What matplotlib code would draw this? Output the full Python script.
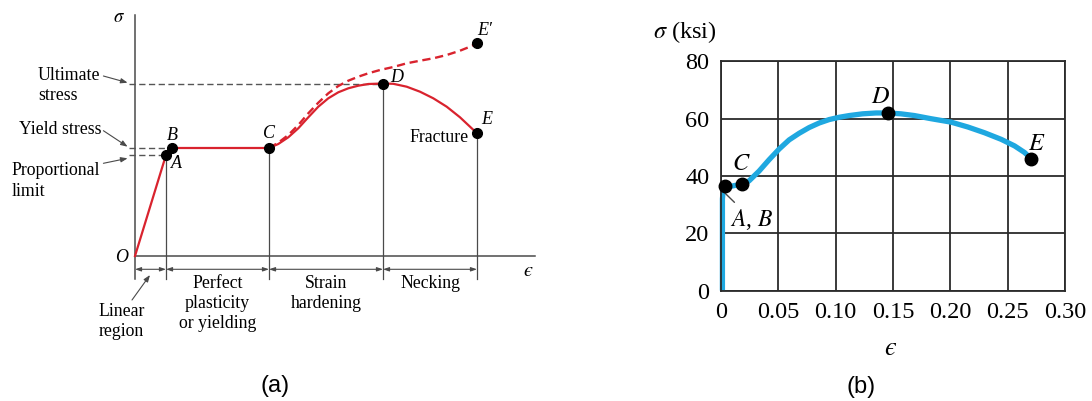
import matplotlib
matplotlib.use("Agg")
import matplotlib.pyplot as plt

plt.rcParams['mathtext.fontset'] = 'stix'
SERIF = 'Liberation Serif'
RED = '#d9232e'
BLUE = '#1fa8e0'
GRAY = '#4a4a4a'

# ---- (a) schematic stress-strain diagram (arbitrary units) ----
point_names = ['A', 'B', 'C', 'D', 'E', "E\u2032"]
point_eps = [0.31, 0.37, 1.34, 2.48, 3.42, 3.42]
point_sig = [1.01, 1.08, 1.08, 1.725, 1.227, 2.127]

# engineering curve O-A-B-C-D-E
curve_eps = [0, 0.31, 0.37, 1.34, 1.433, 1.533, 1.633, 1.733, 1.833, 1.933, 2.033,
             2.133, 2.233, 2.333, 2.48, 2.583, 2.717, 2.85, 2.983, 3.117, 3.25, 3.35, 3.42]
curve_sig = [0, 1.01, 1.08, 1.08, 1.12, 1.187, 1.277, 1.387, 1.493, 1.577, 1.637,
             1.677, 1.703, 1.72, 1.725, 1.722, 1.693, 1.643, 1.577, 1.493, 1.387, 1.293, 1.227]

# true-stress curve C-E'
true_eps = [1.34, 1.433, 1.533, 1.633, 1.733, 1.833, 1.933, 2.033, 2.133, 2.233, 2.333,
            2.45, 2.583, 2.717, 2.85, 2.983, 3.117, 3.25, 3.35, 3.42]
true_sig = [1.08, 1.133, 1.21, 1.31, 1.427, 1.533, 1.627, 1.70, 1.753, 1.793, 1.827,
            1.86, 1.89, 1.927, 1.953, 1.977, 2.01, 2.053, 2.093, 2.127]

region_labels = ['Perfect\nplasticity\nor yielding', 'Strain\nhardening', 'Necking']
stress_labels = ['Ultimate\nstress', 'Yield stress', 'Proportional\nlimit']

# ---- (b) measured curve for structural steel ----
steel_eps = [0.0015, 0.0015, 0.0022, 0.0038, 0.010, 0.0183, 0.0247, 0.0334, 0.0422,
             0.0509, 0.0596, 0.0683, 0.077, 0.0858, 0.0945, 0.1032, 0.112, 0.1236,
             0.1353, 0.1455, 0.157, 0.1687, 0.1832, 0.2007, 0.2153, 0.2298, 0.2443,
             0.256, 0.2647, 0.2705]
steel_sig = [0, 32, 35.2, 36.4, 36.5, 37.2, 38.3, 41.7, 45.7,
             49.4, 52.6, 54.9, 56.9, 58.5, 59.7, 60.5, 61.1, 61.7,
             62.0, 62.0, 61.7, 61.1, 60.0, 58.8, 57.1, 55.1, 52.8,
             50.5, 48.2, 46.0]
steel_pt_eps = [0.0038, 0.0183, 0.1455, 0.2705]
steel_pt_sig = [36.4, 37.2, 62.0, 46.0]
steel_x_ticks = [0, 0.05, 0.10, 0.15, 0.20, 0.25, 0.30]
steel_x_labels = ['0', '0.05', '0.10', '0.15', '0.20', '0.25', '0.30']
steel_y_ticks = [0, 20, 40, 60, 80]

fig = plt.figure(figsize=(10.92, 4.01), dpi=100)

# ================= panel (a) =================
ax = fig.add_axes([0, 0, 0.5, 1])
ax.set_xlim(-1.35, 4.11)
ax.set_ylim(-1.45, 2.56)
ax.axis('off')

ax.plot([0, 0], [-0.23, 2.41], color=GRAY, lw=1.1)
ax.plot([0, 4.0], [0, 0], color=GRAY, lw=1.1)

# drop lines from A, C, D, E
for i in [0, 2, 3, 4]:
    ax.plot([point_eps[i], point_eps[i]], [-0.23, point_sig[i]], color=GRAY, lw=0.9)

# dashed guides to stress levels
for i in [3, 1, 0]:
    ax.plot([-0.06, point_eps[i]], [point_sig[i], point_sig[i]], color='#555555',
            lw=1.0, ls=(0, (4.5, 2.5)))

ax.plot(true_eps, true_sig, color=RED, lw=1.7, ls=(0, (3.5, 2)))
ax.plot(curve_eps, curve_sig, color=RED, lw=1.6, solid_joinstyle='round')
ax.plot(point_eps, point_sig, 'o', color='black', ms=7, zorder=5)

label_off = {'A': (0.10, -0.09), 'B': (0.0, 0.13), 'C': (0.005, 0.14), 'D': (0.135, 0.06),
             'E': (0.095, 0.14), "E\u2032": (0.08, 0.13)}
for name, x, y in zip(point_names, point_eps, point_sig):
    dx, dy = label_off[name]
    ax.text(x + dx, y + dy, name, family=SERIF, style='italic', fontsize=13,
            ha='center', va='center')
ax.text(3.34, 1.19, 'Fracture', family=SERIF, fontsize=12.8, ha='right', va='center')

ax.text(-0.16, 2.40, r'$\sigma$', fontsize=13.5, ha='center', va='center')
ax.text(-0.13, -0.01, 'O', family=SERIF, style='italic', fontsize=13,
        ha='center', va='center')
ax.text(3.93, -0.14, '$\u03f5$', fontsize=14.5, ha='center', va='center')

# region dimension arrows and labels
bounds = [0, point_eps[0], point_eps[2], point_eps[3], point_eps[4]]
for x0, x1 in zip(bounds[:-1], bounds[1:]):
    ax.annotate('', xy=(x1, -0.133), xytext=(x0, -0.133),
                arrowprops=dict(arrowstyle='<|-|>,head_length=0.35,head_width=0.12',
                                color=GRAY, lw=0.8, shrinkA=0, shrinkB=0))
for x0, x1, lab in zip(bounds[1:-1], bounds[2:], region_labels):
    ax.text((x0 + x1) / 2, -0.185, lab, family=SERIF, fontsize=12.8, ha='center',
            va='top', linespacing=1.25)

ax.text(-0.136, -0.655, 'Linear\nregion', family=SERIF, fontsize=12.8, ha='center',
        va='center', linespacing=1.25)
ax.annotate('', xy=(0.15, -0.19), xytext=(-0.03, -0.44),
            arrowprops=dict(arrowstyle='-|>,head_length=0.4,head_width=0.15',
                            color=GRAY, lw=0.8, shrinkA=0, shrinkB=0))

# stress level call-outs
stress_text_pos = [(-0.97, 1.707), (-1.16, 1.267), (-1.236, 0.75)]
stress_arrow_from = [(-0.316, 1.80), (-0.316, 1.253), (-0.316, 0.927)]
stress_arrow_to = [(-0.074, 1.733), (-0.074, 1.093), (-0.074, 0.977)]
for lab, tp, af, at in zip(stress_labels, stress_text_pos, stress_arrow_from, stress_arrow_to):
    ax.text(tp[0], tp[1], lab, family=SERIF, fontsize=12.8, ha='left', va='center',
            linespacing=1.25)
    ax.annotate('', xy=at, xytext=af,
                arrowprops=dict(arrowstyle='-|>,head_length=0.4,head_width=0.15',
                                color=GRAY, lw=0.8, shrinkA=0, shrinkB=0))

fig.text(275 / 1092, 1 - 386 / 401, '(a)', family='Liberation Sans', fontsize=17,
         ha='center', va='center')

# ================= panel (b) =================
bx = fig.add_axes([720.7 / 1092, 1 - 290.6 / 401, 344.4 / 1092, 229.2 / 401])
bx.set_xlim(0, 0.30)
bx.set_ylim(0, 80)
bx.set_xticks(steel_x_ticks)
bx.set_xticklabels(steel_x_labels)
bx.set_yticks(steel_y_ticks)
bx.grid(True, color='#2b2b2b', lw=1.3)
for s in bx.spines.values():
    s.set_color('#2b2b2b')
    s.set_linewidth(1.3)
bx.tick_params(length=0, labelsize=17.5, pad=8)
for t in bx.get_xticklabels() + bx.get_yticklabels():
    t.set_family(SERIF)
bx.set_axisbelow(True)

bx.plot(steel_eps, steel_sig, color=BLUE, lw=3.8, solid_capstyle='butt',
        solid_joinstyle='round', clip_on=False)
bx.plot(steel_pt_eps, steel_pt_sig, 'o', color='black', ms=9, zorder=5, clip_on=False)

bx.annotate('$A$, $B$', xy=(0.0038, 34.0), xytext=(0.0085, 24.8), fontsize=17,
            family=SERIF, ha='left', va='center',
            arrowprops=dict(arrowstyle='-', color=GRAY, lw=1.0, shrinkA=2, shrinkB=0))
bx.text(0.0183, 44.5, '$C$', fontsize=17.5, ha='center', va='center')
bx.text(0.1395, 68.0, '$D$', fontsize=17.5, ha='center', va='center')
bx.text(0.2755, 51.5, '$E$', fontsize=17.5, ha='center', va='center')

fig.text(685 / 1092, 1 - 32 / 401, r'$\sigma$ (ksi)', family=SERIF, fontsize=17.5,
         ha='center', va='center')
fig.text(891 / 1092, 1 - 348 / 401, '$\u03f5$', fontsize=19, ha='center', va='center')
fig.text(861 / 1092, 1 - 387 / 401, '(b)', family='Liberation Sans', fontsize=17,
         ha='center', va='center')

fig.savefig('out.png', dpi=100)
